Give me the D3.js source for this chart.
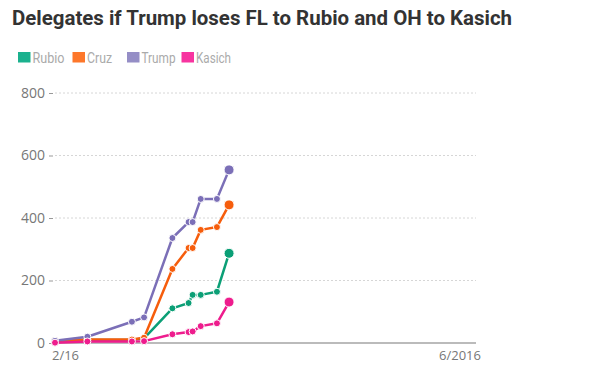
<!DOCTYPE html>
<html>
<head>
<meta charset="utf-8">
<script src="https://cdn.jsdelivr.net/npm/d3@7"></script>
<style>
  body { margin: 0; background: #fff; }
  svg { display: block; }
</style>
</head>
<body>
<svg id="chart" width="616" height="385"></svg>
<script>
const title = "Delegates if Trump loses FL to Rubio and OH to Kasich";
const dates = ["2016-02-01","2016-02-09","2016-02-20","2016-02-23","2016-03-01","2016-03-05","2016-03-06","2016-03-08","2016-03-12","2016-03-15"];
const candidates = ["Rubio", "Cruz", "Trump", "Kasich"];
const rubio  = [7, 10, 10, 15, 111, 128, 154, 154, 164, 287];
const cruz   = [8, 11, 11, 17, 237, 304, 304, 362, 371, 442];
const trump  = [7, 20, 68, 82, 336, 387, 387, 461, 461, 554];
const kasich = [1, 5, 5, 6, 28, 35, 37, 54, 63, 131];
const yTicks = [0, 200, 400, 600, 800];
const xTickLabels = ["2/16", "6/2016"];

const lineColors = {Rubio: "#0b9f76", Cruz: "#f65d0c", Trump: "#7b6fb7", Kasich: "#ee1c8d"};
const legendColors = {Rubio: "#1bb18e", Cruz: "#fd772a", Trump: "#958ec6", Kasich: "#f734a0"};

const parse = d3.timeParse("%Y-%m-%d");
const seriesValues = {Rubio: rubio, Cruz: cruz, Trump: trump, Kasich: kasich};
const series = candidates.map(name => ({
  name,
  values: dates.map((d, i) => ({date: parse(d), value: seriesValues[name][i]}))
}));

const svg = d3.select("#chart");
const font = "'Open Sans', Roboto, sans-serif";

// Title
svg.append("text")
  .attr("x", 12).attr("y", 25)
  .attr("font-family", "Roboto, sans-serif")
  .attr("font-weight", 700)
  .attr("font-size", 21)
  .attr("fill", "#333")
  .attr("textLength", 500)
  .attr("lengthAdjust", "spacingAndGlyphs")
  .text(title);

// Legend
const legend = svg.append("g");
const legendTextWidths = [32, 25, 34, 35];
candidates.forEach((c, i) => {
  const g = legend.append("g").attr("transform", `translate(${18 + i * 54.5},52)`);
  g.append("rect").attr("width", 12.5).attr("height", 10.5).attr("fill", legendColors[c]);
  g.append("text").attr("x", 14.5).attr("y", 10.5)
    .attr("font-family", "Roboto, sans-serif")
    .attr("font-size", 14)
    .attr("fill", "#aaa")
    .attr("textLength", legendTextWidths[i])
    .attr("lengthAdjust", "spacingAndGlyphs")
    .text(c);
});

const x = d3.scaleTime()
  .domain([parse("2016-02-01"), parse("2016-05-15")])
  .range([55, 476]);
const y = d3.scaleLinear().domain([0, 800]).range([343, 93]);

// Grid lines
svg.append("g").selectAll("line")
  .data(yTicks.filter(d => d > 0))
  .join("line")
  .attr("x1", 55).attr("x2", 476)
  .attr("y1", d => y(d)).attr("y2", d => y(d))
  .attr("stroke", "#d6d6d6").attr("stroke-width", 1)
  .attr("stroke-dasharray", "2,2");

// Y axis
const yAxis = svg.append("g")
  .attr("transform", "translate(53,0)")
  .call(d3.axisLeft(y).tickValues(yTicks).tickSize(4).tickPadding(4));
yAxis.select(".domain").remove();
yAxis.selectAll(".tick line").attr("stroke", "#999");
yAxis.selectAll(".tick text")
  .attr("font-family", font)
  .attr("font-size", 14)
  .attr("fill", "#777");

// Baseline
svg.append("line")
  .attr("x1", 55).attr("x2", 476)
  .attr("y1", y(0)).attr("y2", y(0))
  .attr("stroke", "#bbb").attr("stroke-width", 2);

// X axis
const xTickDates = [x.invert(65), x.invert(459.5)];
const xAxis = svg.append("g")
  .attr("transform", `translate(0,${y(0)})`)
  .call(d3.axisBottom(x).tickValues(xTickDates).tickSize(0).tickPadding(8)
    .tickFormat((d, i) => xTickLabels[i]));
xAxis.select(".domain").remove();
xAxis.selectAll(".tick text")
  .attr("font-family", font)
  .attr("font-size", 13)
  .attr("fill", "#777");

// Lines
const line = d3.line().x(d => x(d.date)).y(d => y(d.value));
const sg = svg.append("g").selectAll("g").data(series).join("g");
sg.append("path")
  .attr("d", d => line(d.values))
  .attr("fill", "none")
  .attr("stroke", d => lineColors[d.name])
  .attr("stroke-width", 2.5)
  .attr("stroke-linejoin", "round");
sg.each(function(s) {
  d3.select(this).selectAll("circle")
    .data(s.values)
    .join("circle")
    .attr("cx", d => x(d.date))
    .attr("cy", d => y(d.value))
    .attr("r", (d, i) => i === s.values.length - 1 ? 5 : 3.5)
    .attr("fill", lineColors[s.name])
    .attr("stroke", "#fff")
    .attr("stroke-width", 1);
});
</script>
</body>
</html>
